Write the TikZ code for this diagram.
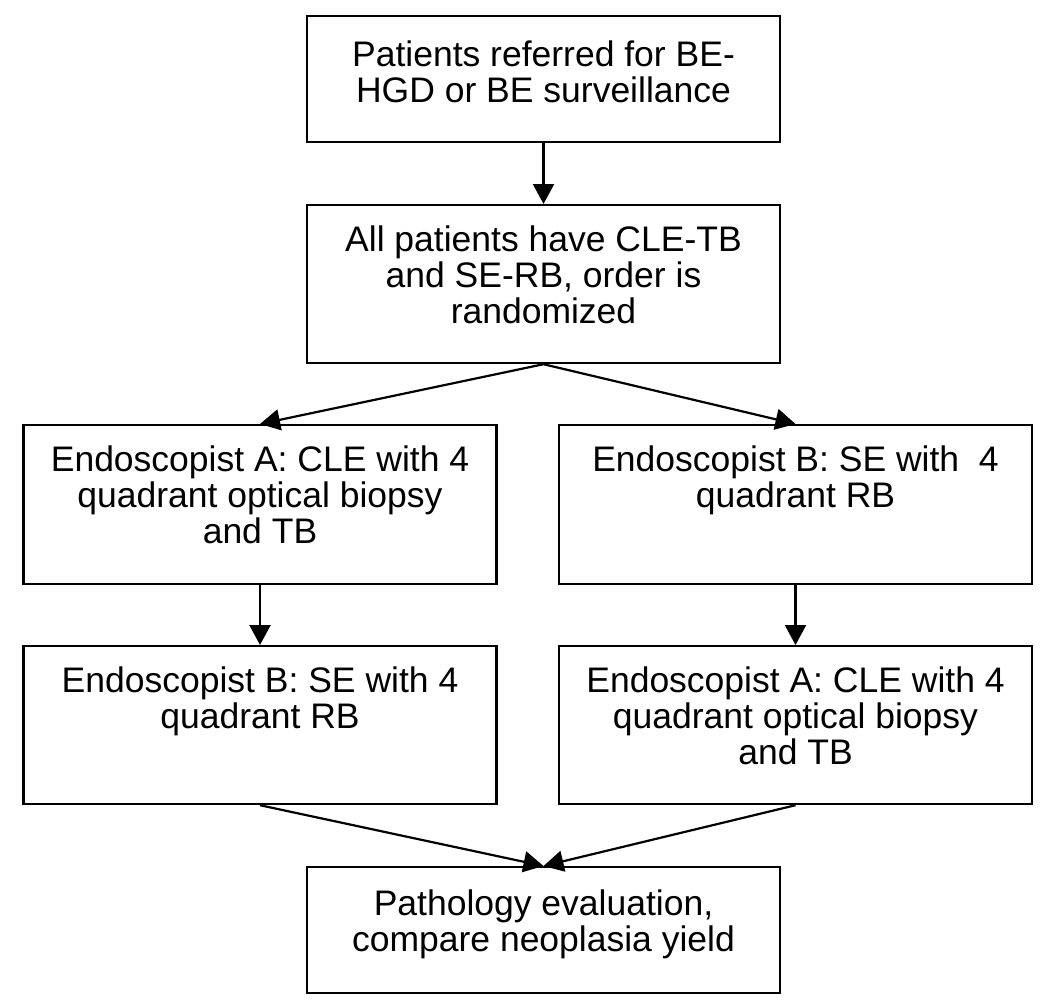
\documentclass[tikz,border=0pt]{standalone}
\usepackage{fontspec}
\setmainfont{Liberation Sans}
\usetikzlibrary{arrows.meta}

% text of a stage box, set from the top of the box: #1 height, #2 top gap, #3 text
\newcommand{\stagetext}[3]{\parbox[t][#1][t]{460pt}{\centering\vspace*{#2}#3}}

\begin{document}
\begin{tikzpicture}[
    x=1pt, y=-1pt,
    stage/.style={draw,line width=2.2pt,inner sep=0pt,minimum width=473pt,anchor=north,
      font=\fontsize{35.5}{36}\selectfont},
    flow/.style={-{Triangle[width=21pt,length=20pt]},line width=2.2pt}
    ]
    \useasboundingbox (0,0) rectangle (1050,1002);

    % top of the flow:
    \node[stage] (refer) at (543.5,15) {\stagetext{126pt}{25pt}{Patients referred for BE-\\HGD or BE surveillance}};
    \node[stage] (random) at (543.5,204) {\stagetext{158pt}{21pt}{All patients have CLE-TB\\and SE-RB, order is\\randomized}};

    % first endoscopy:
    \node[stage] (clefirst) at (260,424) {\stagetext{159pt}{21pt}{Endoscopist A: CLE with 4\\quadrant optical biopsy\\and TB}};
    \node[stage] (sefirst) at (795.5,424) {\stagetext{159pt}{21pt}{Endoscopist B: SE with \ 4\\quadrant RB}};

    % second endoscopy:
    \node[stage] (sesecond) at (260,645) {\stagetext{158pt}{21pt}{Endoscopist B: SE with 4\\quadrant RB}};
    \node[stage] (clesecond) at (795.5,645) {\stagetext{158pt}{21pt}{Endoscopist A: CLE with 4\\quadrant optical biopsy\\and TB}};

    % result:
    \node[stage] (patho) at (543.5,866) {\stagetext{126pt}{23pt}{Pathology evaluation,\\compare neoplasia yield}};

    % connections:
    \draw[flow] (refer) -- (random);
    \draw[flow] (random.south) -- (clefirst.north);
    \draw[flow] (random.south) -- (sefirst.north);
    \draw[flow] (clefirst) -- (sesecond);
    \draw[flow] (sefirst) -- (clesecond);
    \draw[flow] (sesecond.south) -- (patho.north);
    \draw[flow] (clesecond.south) -- (patho.north);

\end{tikzpicture}
\end{document}
